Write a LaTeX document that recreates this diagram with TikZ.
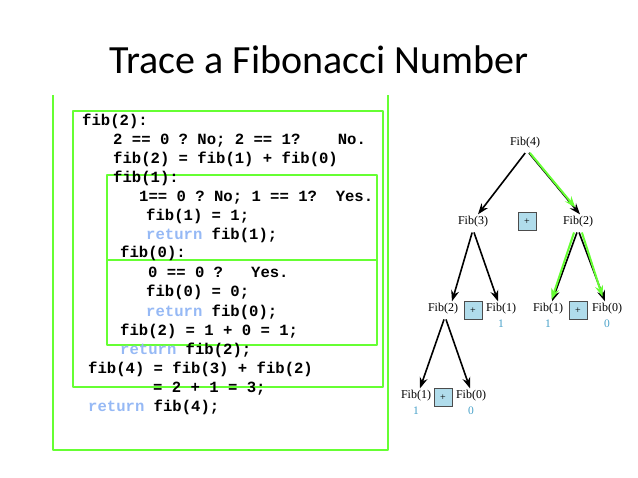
\documentclass[tikz,border=0pt]{standalone}
\usepackage{fontspec}
\setmainfont{Liberation Serif}
\newfontfamily\titlefont{Carlito}
\newfontfamily\codefont{Liberation Mono}
\usetikzlibrary{arrows.meta}
\definecolor{boxgreen}{RGB}{102,255,51}
\definecolor{retblue}{RGB}{150,185,245}
\definecolor{valblue}{RGB}{70,160,200}
\definecolor{plusfill}{RGB}{176,220,235}
\tikzset{
  code/.style={anchor=base west,inner sep=0pt,font=\codefont\bfseries\fontsize{15.6}{19}\selectfont\frenchspacing},
  frame/.style={draw=boxgreen,line width=2.8pt,line join=round},
  fib/.style={inner sep=2pt,font=\fontsize{12}{14}\selectfont},
  val/.style={inner sep=0pt,text=valblue,font=\fontsize{11.5}{13}\selectfont},
  plus/.style={draw=black!70,fill=plusfill,line width=1pt,minimum size=18pt,inner sep=0pt,font=\fontsize{10}{11}\selectfont},
  arr/.style={-{Stealth[length=11pt,width=8pt]},line width=1.6pt,shorten <=3pt},
  hilite/.style={arr,draw=boxgreen,line width=2pt},
}
\newcommand{\ret}{\textcolor{retblue}{return}}

\begin{document}
\begin{tikzpicture}[x=1pt,y=-1pt]
  \useasboundingbox (0,0) rectangle (638,478);
  % title
  \node[anchor=base,inner sep=0pt,font=\titlefont\fontsize{40}{48}\selectfont] (title) at (319,74) {Trace a Fibonacci Number};
  % frames
  \draw[frame] (53,95) -- (53,450) -- (388,450) -- (388,95);
  \draw[frame] (73,111) rectangle (383,387);
  \draw[frame] (107,175) rectangle (377,260);
  \draw[frame] (107,260) rectangle (377,345);
  % trace
  \node[code] (l1) at (82,126) {fib(2):};
  \node[code] (l2) at (113,145) {2 == 0 ? No; 2 == 1?~~~~No.};
  \node[code] (l3) at (113,164) {fib(2) = fib(1) + fib(0)};
  \node[code] (l4) at (113,183) {fib(1):};
  \node[code] (l5) at (139,202) {1== 0 ? No; 1 == 1?~~Yes.};
  \node[code] (l6) at (146,221) {fib(1) = 1;};
  \node[code] (l7) at (146,240) {\ret{} fib(1);};
  \node[code] (l8) at (120,258) {fib(0):};
  \node[code] (l9) at (148,278) {0 == 0 ?~~~Yes.};
  \node[code] (l10) at (146,297) {fib(0) = 0;};
  \node[code] (l11) at (146,317) {\ret{} fib(0);};
  \node[code] (l12) at (120,336) {fib(2) = 1 + 0 = 1;};
  \node[code] (l13) at (120,355) {\ret{} fib(2);};
  \node[code] (l14) at (88,374) {fib(4) = fib(3) + fib(2)};
  \node[code] (l15) at (153,393) {= 2 + 1 = 3;};
  \node[code] (l16) at (88,412) {\ret{} fib(4);};
  % call tree
  \node[fib] (f4) at (525,143) {Fib(4)};
  \node[fib] (f3) at (473,222) {Fib(3)};
  \node[plus] (p1) at (527,222) {+};
  \node[fib] (f2r) at (578,222) {Fib(2)};
  \node[fib] (f2l) at (443,309) {Fib(2)};
  \node[plus] (p2) at (473,311) {+};
  \node[fib] (f1a) at (501,309) {Fib(1)};
  \node[val] (v1a) at (501,324) {1};
  \node[fib] (f1b) at (548,309) {Fib(1)};
  \node[val] (v1b) at (548,324) {1};
  \node[plus] (p3) at (578,311) {+};
  \node[fib] (f0a) at (607,309) {Fib(0)};
  \node[val] (v0a) at (607,324) {0};
  \node[fib] (f1c) at (416,396) {Fib(1)};
  \node[val] (v1c) at (416,411) {1};
  \node[plus] (p4) at (443,398) {+};
  \node[fib] (f0b) at (471,396) {Fib(0)};
  \node[val] (v0b) at (471,411) {0};
  % edges
  \draw[arr] ([xshift=2pt]f4.south) -- ([xshift=5pt]f3.north);
  \draw[arr] ([xshift=2pt]f4.south) -- ([xshift=2pt]f2r.north);
  \draw[arr] (f3.south) -- ([xshift=9pt]f2l.north);
  \draw[arr] (f3.south) -- ([xshift=-3pt]f1a.north);
  \draw[arr] (f2r.south) -- ([xshift=4pt]f1b.north);
  \draw[arr] (f2r.south) -- ([xshift=-2pt]f0a.north);
  \draw[arr] ([xshift=2pt]f2l.south) -- ([xshift=4pt]f1c.north);
  \draw[arr] ([xshift=2pt]f2l.south) -- ([xshift=-1pt]f0b.north);
  % highlighted path
  \draw[hilite,shorten >=9pt] ([xshift=3pt]f4.south) -- ([xshift=3pt]f2r.north);
  \draw[hilite,shorten >=2pt] ([xshift=-3pt]f2r.south) -- ([xshift=3pt]f1b.north);
  \draw[hilite,shorten >=5pt] ([xshift=3pt]f2r.south) -- ([xshift=-3pt]f0a.north);
\end{tikzpicture}
\end{document}
